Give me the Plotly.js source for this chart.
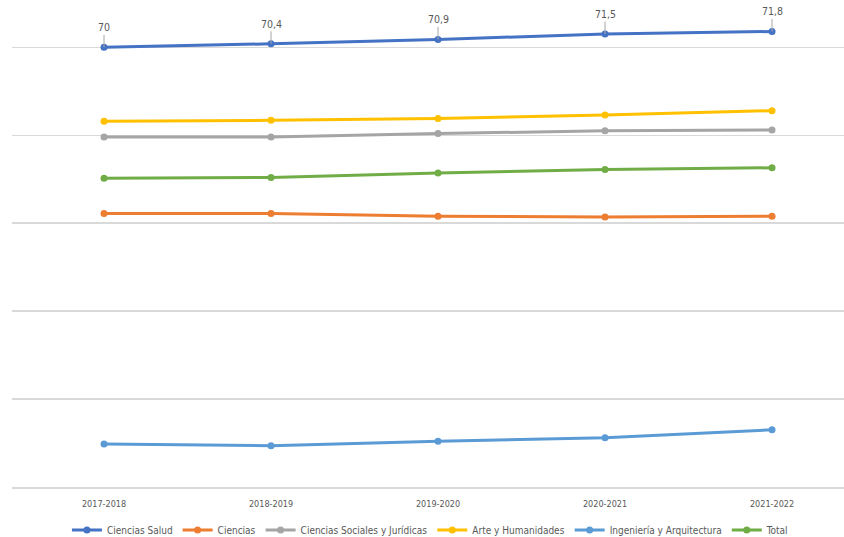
<!DOCTYPE html>
<html>
<head>
<meta charset="utf-8">
<script src="https://cdn.plot.ly/plotly-3.0.1.min.js"></script>
<style>html,body{margin:0;padding:0;background:#fff;}#chart{width:844px;height:537px;}</style>
</head>
<body>
<div id="chart"></div>
<script>
const cursos = ["2017-2018", "2018-2019", "2019-2020", "2020-2021", "2021-2022"];
const cienciasSalud = [70, 70.4, 70.9, 71.5, 71.8];
const ciencias = [51.1, 51.1, 50.8, 50.7, 50.8];
const socialesJuridicas = [59.8, 59.8, 60.2, 60.5, 60.6];
const arteHumanidades = [61.6, 61.7, 61.9, 62.3, 62.8];
const ingenieriaArquitectura = [24.9, 24.7, 25.2, 25.6, 26.5];
const total = [55.1, 55.2, 55.7, 56.1, 56.3];

const seriesNames = ["Ciencias Salud", "Ciencias", "Ciencias Sociales y Jurídicas", "Arte y Humanidades", "Ingeniería y Arquitectura", "Total"];
const seriesValues = [cienciasSalud, ciencias, socialesJuridicas, arteHumanidades, ingenieriaArquitectura, total];
const colors = ["#4472C4", "#ED7D31", "#A5A5A5", "#FFC000", "#5B9BD5", "#70AD47"];

const font = "'Liberation Sans Narrow', 'Arial Narrow', 'DejaVu Sans Condensed', sans-serif";

const traces = seriesNames.map((name, i) => ({
  type: "scatter",
  mode: "lines+markers",
  name: name,
  x: cursos,
  y: seriesValues[i],
  line: {color: colors[i], width: 3},
  marker: {color: colors[i], size: 7},
  hoverinfo: "skip"
}));

const annotations = cursos.map((c, i) => ({
  x: c, y: cienciasSalud[i], xref: "x", yref: "y",
  text: String(cienciasSalud[i]).replace(".", ","),
  showarrow: true, arrowhead: 0, arrowwidth: 1, arrowcolor: "#a6a6a6",
  ax: 0, ay: -20, standoff: 0,
  font: {family: font, size: 10.5, color: "#595959"}
}));

const layout = {
  width: 844, height: 537,
  margin: {l: 12, r: 0, t: 0, b: 50},
  paper_bgcolor: "#ffffff", plot_bgcolor: "#ffffff",
  showlegend: true,
  legend: {orientation: "h", x: 0.51, xanchor: "center", xref: "container",
           y: 0.013, yanchor: "middle", yref: "container",
           font: {family: font, size: 10, color: "#595959"}, traceorder: "normal", itemwidth: 30},
  xaxis: {type: "category", range: [-0.551, 4.431], showgrid: false, zeroline: false,
          showline: true, linecolor: "#d9d9d9", linewidth: 1.5,
          ticks: "outside", ticklen: 8, tickcolor: "rgba(0,0,0,0)",
          tickfont: {family: font, size: 9, color: "#595959"}},
  yaxis: {range: [20, 75.38], dtick: 10, tick0: 0, showgrid: true, gridcolor: "#d9d9d9", gridwidth: 1.5,
          zeroline: false, showticklabels: false, ticks: ""},
  annotations: annotations
};

Plotly.newPlot("chart", traces, layout, {displayModeBar: false, staticPlot: true});
</script>
</body>
</html>
